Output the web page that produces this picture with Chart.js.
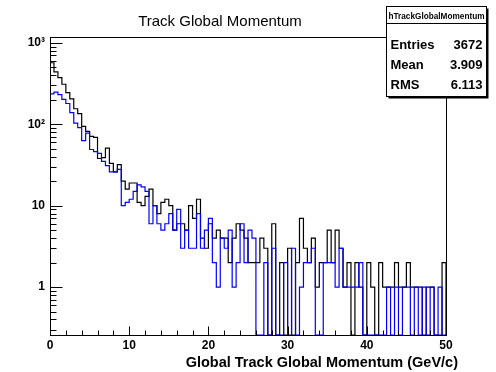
<!DOCTYPE html>
<html>
<head>
<meta charset="utf-8">
<script src="https://cdn.jsdelivr.net/npm/chart.js@4.4.0/dist/chart.umd.min.js"></script>
<style>
    html, body { margin: 0; padding: 0; background: #fff; }
    #wrap { width: 496px; height: 372px; }
</style>
</head>
<body>
<div id="wrap"><canvas id="c" width="496" height="372"></canvas></div>

<script>
    // histogram: 100 bins from 0 to 50 GeV/c
    const xRange = [0, 50];
    const yRange = [0.258, 1180];
    const yTickLabels = ['1', '10', '10²', '10³'];

    // black histogram (all global tracks)
    const blackCounts = [
        570, 440, 375, 310, 245, 205, 155, 135, 94, 82,
        71, 69, 38, 39, 51, 33, 26, 32, 20, 16,
        19, 19, 11, 10, 13, 16, 10, 8, 11, 12,
        10, 5, 6, 6, 5, 10, 7, 12, 4, 3,
        6, 4, 5, 4, 4, 2, 4, 6, 5, 4,
        2, 2, 2, 4, 3, 0, 6, 0, 2, 0,
        3, 0, 2, 7, 3, 2, 4, 1, 2, 2,
        5, 2, 5, 3, 1, 2, 0, 2, 1, 0,
        2, 1, 0, 2, 1, 1, 1, 2, 1, 1,
        2, 1, 1, 1, 0, 1, 1, 0, 0, 2
    ];

    // blue histogram
    const blueCounts = [
        236, 248, 231, 202, 180, 139, 103, 91, 63, 78,
        49, 46, 44, 35, 31, 26, 26, 28, 10, 11,
        12, 15, 18, 17, 15, 6, 10, 6, 5, 6,
        8, 5, 9, 3, 5, 3, 3, 8, 3, 5,
        7, 2, 1, 4, 3, 5, 1, 2, 6, 2,
        5, 4, 0, 0, 2, 0, 3, 0, 0, 2,
        0, 3, 0, 1, 2, 2, 3, 0, 0, 2,
        2, 2, 1, 3, 1, 1, 1, 1, 2, 0,
        0, 0, 0, 0, 0, 1, 0, 1, 0, 1,
        1, 0, 1, 0, 1, 0, 1, 0, 1, 0
    ];

    const statsName = 'hTrackGlobalMomentum';
    const statsRows = [['Entries', '3672'], ['Mean', '3.909'], ['RMS', '6.113']];

    // turn bin contents into step outline points (empty bins sit on the frame bottom)
    function histPoints(counts) {
        const w = (xRange[1] - xRange[0]) / counts.length;
        const pts = [{x: xRange[0], y: yRange[0]}];
        counts.forEach((c, i) => pts.push({x: xRange[0] + i * w, y: c > 0 ? c : yRange[0]}));
        pts.push({x: xRange[1], y: pts[pts.length - 1].y});
        pts.push({x: xRange[1], y: yRange[0]});
        return pts;
    }

    const FONT = '"Liberation Sans", Arial, sans-serif';

    // ROOT style frame, inward ticks, title and stats box
    const rootDecor = {
        id: 'rootDecor',
        afterDatasetsDraw(chart) {
            const {ctx, chartArea: a, scales: {x, y}} = chart;
            ctx.save();
            ctx.strokeStyle = '#000';
            ctx.lineWidth = 1;
            const L = Math.round(a.left) + 0.5, R = Math.round(a.right) + 0.5;
            const T = Math.round(a.top) + 0.5, B = Math.round(a.bottom) + 0.5;
            ctx.strokeRect(L, T, R - L, B - T);
            ctx.beginPath();
            for (let v = xRange[0]; v <= xRange[1]; v += 2) {
                const px = Math.round(x.getPixelForValue(v)) + 0.5;
                const len = v % 10 === 0 ? 9 : 5;
                ctx.moveTo(px, B);
                ctx.lineTo(px, B - len);
            }
            for (let k = -1; k <= 3; k++) {
                for (let m = 1; m <= 9; m++) {
                    const v = m * Math.pow(10, k);
                    if (v < yRange[0] || v > yRange[1]) continue;
                    const py = Math.round(y.getPixelForValue(v)) + 0.5;
                    ctx.moveTo(L, py);
                    ctx.lineTo(L + (m === 1 ? 12 : 6), py);
                }
            }
            ctx.stroke();
            ctx.restore();
        },
        afterDraw(chart) {
            const ctx = chart.ctx;
            ctx.save();
            ctx.fillStyle = '#000';
            // title
            ctx.font = '15px ' + FONT;
            ctx.textAlign = 'center';
            ctx.textBaseline = 'alphabetic';
            ctx.fillText('Track Global Momentum', 220, 26);
            // x axis title
            ctx.font = 'bold 14.5px ' + FONT;
            ctx.textAlign = 'right';
            ctx.fillText('Global Track Global Momentum (GeV/c)', 458, 367);
            // stats box with shadow
            const bx = 386.5, by = 6.5, bw = 100, bh = 90;
            ctx.fillRect(bx + 2, by + 2, bw, bh);
            ctx.fillStyle = '#fff';
            ctx.fillRect(bx, by, bw, bh);
            ctx.strokeStyle = '#000';
            ctx.lineWidth = 1;
            ctx.strokeRect(bx, by, bw, bh);
            ctx.beginPath();
            ctx.moveTo(bx, by + 17);
            ctx.lineTo(bx + bw, by + 17);
            ctx.stroke();
            ctx.fillStyle = '#000';
            ctx.font = 'bold 9px ' + FONT;
            ctx.textAlign = 'center';
            ctx.fillText(statsName, bx + bw / 2, by + 12, bw - 4);
            ctx.font = 'bold 13px ' + FONT;
            statsRows.forEach((r, i) => {
                const ty = by + 42 + i * 20;
                ctx.textAlign = 'left';
                ctx.fillText(r[0], bx + 4, ty);
                ctx.textAlign = 'right';
                ctx.fillText(r[1], bx + bw - 4, ty);
            });
            ctx.restore();
        }
    };

    new Chart(document.getElementById('c'), {
        type: 'line',
        data: {
            datasets: [
                {
                    label: 'blue',
                    data: histPoints(blueCounts),
                    borderColor: '#0000ff',
                    borderWidth: 1.2,
                    stepped: 'before',
                    pointRadius: 0,
                    fill: false,
                    order: 0
                },
                {
                    label: 'black',
                    data: histPoints(blackCounts),
                    borderColor: '#000000',
                    borderWidth: 1.2,
                    stepped: 'before',
                    pointRadius: 0,
                    fill: false,
                    order: 1
                }
            ]
        },
        options: {
            responsive: false,
            animation: false,
            devicePixelRatio: 1,
            layout: { padding: { left: 0, top: 37, right: 50, bottom: 0 } },
            plugins: {
                legend: { display: false },
                tooltip: { enabled: false },
                title: { display: false }
            },
            scales: {
                x: {
                    type: 'linear',
                    min: xRange[0],
                    max: xRange[1],
                    border: { display: false },
                    grid: { display: false, drawTicks: false },
                    ticks: {
                        stepSize: 10,
                        padding: 3,
                        maxRotation: 0,
                        color: '#000',
                        font: { family: FONT, size: 12, weight: 'bold' }
                    },
                    afterFit: s => { s.height = 37; }
                },
                y: {
                    type: 'logarithmic',
                    min: yRange[0],
                    max: yRange[1],
                    border: { display: false },
                    grid: { display: false, drawTicks: false },
                    ticks: {
                        autoSkip: false,
                        padding: 5,
                        color: '#000',
                        font: { family: FONT, size: 12, weight: 'bold' },
                        callback: v => {
                            const e = Math.log10(v);
                            if (Math.abs(e - Math.round(e)) > 1e-6) return '';
                            return yTickLabels[Math.round(e)] || '';
                        }
                    },
                    afterFit: s => { s.width = 50; }
                }
            }
        },
        plugins: [rootDecor]
    });
</script>
</body>
</html>
